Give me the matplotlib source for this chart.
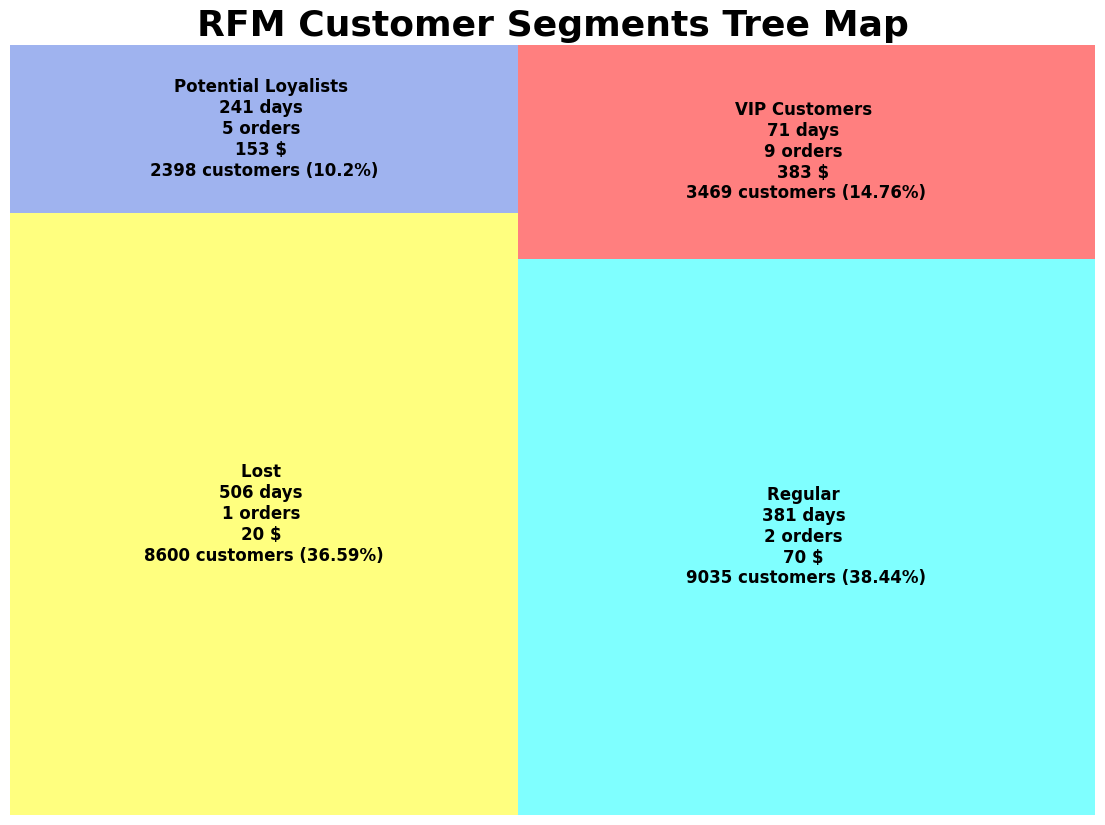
import matplotlib
matplotlib.use("Agg")
import matplotlib.pyplot as plt

# segment summary (mean recency / frequency / monetary, customer count)
segments = ["Lost", "Potential Loyalists", "Regular", "VIP Customers"]
recency_days = [506, 241, 381, 71]
frequency_orders = [1, 5, 2, 9]
monetary = [20, 153, 70, 383]
customers = [8600, 2398, 9035, 3469]
colors = ["yellow", "royalblue", "cyan", "red"]


# minimal squarify implementation (same algorithm as the squarify package)
def normalize_sizes(sizes, dx, dy):
    total = sum(sizes)
    return [s * dx * dy / total for s in sizes]

def layoutrow(sizes, x, y, dx, dy):
    width = sum(sizes) / dy
    rects = []
    for s in sizes:
        rects.append((x, y, width, s / width))
        y += s / width
    return rects

def layoutcol(sizes, x, y, dx, dy):
    height = sum(sizes) / dx
    rects = []
    for s in sizes:
        rects.append((x, y, s / height, height))
        x += s / height
    return rects

def layout(sizes, x, y, dx, dy):
    return layoutrow(sizes, x, y, dx, dy) if dx >= dy else layoutcol(sizes, x, y, dx, dy)

def leftover(sizes, x, y, dx, dy):
    if dx >= dy:
        width = sum(sizes) / dy
        return x + width, y, dx - width, dy
    height = sum(sizes) / dx
    return x, y + height, dx, dy - height

def worst_ratio(sizes, x, y, dx, dy):
    return max(max(w / h, h / w) for _, _, w, h in layout(sizes, x, y, dx, dy))

def squarify(sizes, x, y, dx, dy):
    sizes = list(map(float, sizes))
    if len(sizes) == 0:
        return []
    if len(sizes) == 1:
        return layout(sizes, x, y, dx, dy)
    i = 1
    while i < len(sizes) and worst_ratio(sizes[:i], x, y, dx, dy) >= worst_ratio(sizes[:i + 1], x, y, dx, dy):
        i += 1
    current, remaining = sizes[:i], sizes[i:]
    return layout(current, x, y, dx, dy) + squarify(remaining, *leftover(current, x, y, dx, dy))


total = sum(customers)
labels = []
for name, r, f, m, c in zip(segments, recency_days, frequency_orders, monetary, customers):
    pct = round(c / total * 100, 2)
    labels.append(f"{name} \n{r} days \n{f} orders \n{m} $ \n{c} customers ({pct}%)")

fig = plt.figure(figsize=(11.05, 8.25), dpi=100)
ax = fig.add_axes([10 / 1105, 10 / 825, 1085 / 1105, 770 / 825])

rects = squarify(normalize_sizes(customers, 100, 100), 0, 0, 100, 100)
for (x, y, w, h), col, lab in zip(rects, colors, labels):
    ax.add_patch(plt.Rectangle((x, y), w, h, facecolor=col, alpha=0.5, linewidth=0))
    ax.text(x + w / 2, y + h / 2, lab, ha="center", va="center",
            fontsize=12, fontweight="bold", linespacing=1.2)

ax.set_xlim(0, 100)
ax.set_ylim(0, 100)
ax.axis("off")
fig.suptitle("RFM Customer Segments Tree Map", fontsize=26, fontweight="bold", y=0.989)

plt.savefig("out.png", dpi=100)
